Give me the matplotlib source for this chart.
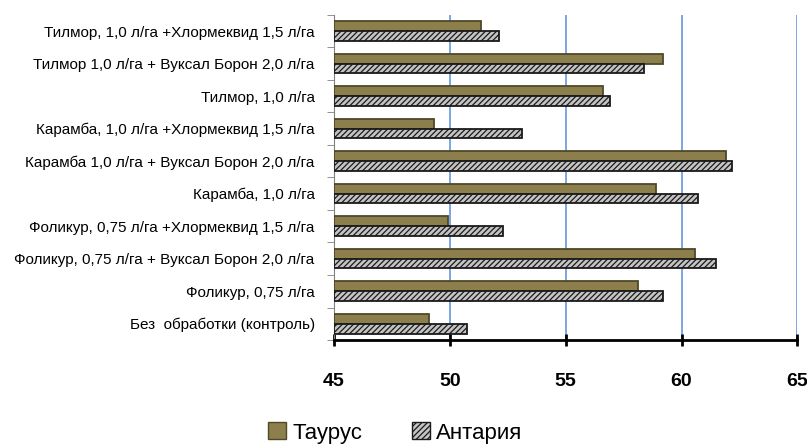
import numpy as np
import matplotlib.pyplot as plt
from matplotlib.patches import Patch

plt.rcParams['font.family'] = ['Liberation Sans Narrow', 'Liberation Sans', 'DejaVu Sans']
plt.rcParams['hatch.linewidth'] = 0.9
plt.rcParams['hatch.color'] = '#3a3a3a'

# categories, bottom to top
categories = [
    'Без  обработки (контроль)',
    'Фоликур, 0,75 л/га',
    'Фоликур, 0,75 л/га + Вуксал Борон 2,0 л/га',
    'Фоликур, 0,75 л/га +Хлормеквид 1,5 л/га',
    'Карамба, 1,0 л/га',
    'Карамба 1,0 л/га + Вуксал Борон 2,0 л/га',
    'Карамба, 1,0 л/га +Хлормеквид 1,5 л/га',
    'Тилмор, 1,0 л/га',
    'Тилмор 1,0 л/га + Вуксал Борон 2,0 л/га',
    'Тилмор, 1,0 л/га +Хлормеквид 1,5 л/га',
]
taurus = [49.1, 58.1, 60.6, 49.9, 58.9, 61.9, 49.3, 56.6, 59.2, 51.35]
antaria = [50.75, 59.2, 61.5, 52.3, 60.7, 62.2, 53.1, 56.9, 58.4, 52.1]
xticks = [45, 50, 55, 60, 65]

fig = plt.figure(figsize=(8.07, 4.48), dpi=100)
ax = fig.add_axes([0.414, 0.241, 0.574, 0.726])

y = np.arange(len(categories))
h = 0.3
base = 45
ax.barh(y + h / 2, np.array(taurus) - base, left=base, height=h,
        color='#8c7f4c', edgecolor='#4f4828', linewidth=1.3, zorder=3)
ax.barh(y - h / 2, np.array(antaria) - base, left=base, height=h,
        facecolor='#c4c4c4', edgecolor='#1a1a1a', hatch='//////', linewidth=1.3, zorder=3)

ax.set_xlim(45, 65)
ax.set_ylim(-0.5, len(categories) - 0.5)
ax.set_xticks(xticks)
ax.set_xticklabels([str(v) for v in xticks], fontsize=14, fontweight='bold')
ax.tick_params(axis='x', length=8, width=2, direction='inout', pad=20)

ax.set_yticks(y)
ax.set_yticklabels(categories, fontsize=11)
ax.set_yticks(np.arange(-0.5, len(categories)), minor=True)
ax.tick_params(axis='y', which='major', length=0, pad=14)
ax.tick_params(axis='y', which='minor', length=5, color='#808080')

ax.grid(axis='x', color='#6f9fdf', linewidth=1.3, zorder=0)
for s in ['top', 'right']:
    ax.spines[s].set_visible(False)
ax.spines['left'].set_color('#808080')
ax.spines['bottom'].set_linewidth(2)
ax.spines['bottom'].set_color('black')

handles = [Patch(facecolor='#8c7f4c', edgecolor='#4f4828', label='Таурус'),
           Patch(facecolor='#c4c4c4', edgecolor='#1a1a1a', hatch='//////', label='Антария')]
fig.legend(handles=handles, loc='lower center', bbox_to_anchor=(0.49, -0.035), ncol=2,
           frameon=False, fontsize=16, handlelength=0.8, handleheight=0.8,
           handletextpad=0.3, columnspacing=2.2)

fig.savefig('out.png', dpi=100)
